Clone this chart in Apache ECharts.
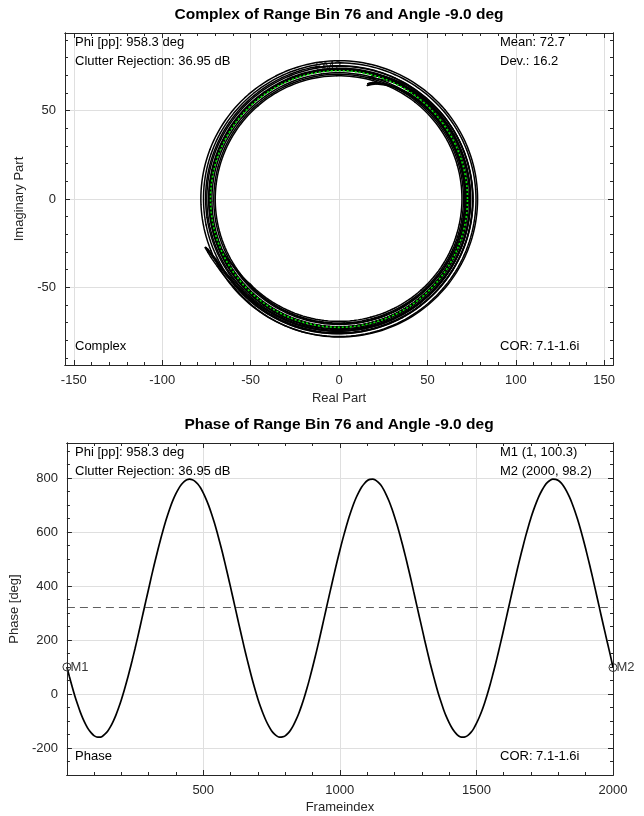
<!DOCTYPE html>
<html><head><meta charset="utf-8">
<script src="https://cdn.jsdelivr.net/npm/echarts@6/dist/echarts.min.js"></script>
<style>html,body{margin:0;padding:0;background:#fff}#c{width:644px;height:816px}</style>
</head><body><div id="c"></div>
<script>
// ---------------- data ----------------
const frameStep = 10;            // samples every 10 frames, first sample = frame 1
const phaseDeg = [100.3,65,28,-7,-38,-67,-92,-113,-131,-144,
-154,-159,-160,-157,-149,-138,-122,-102,-79,-52,
-22,11,47,85,125,167,210,255,300,345,
389,434,477,518,558,596,632,664,694,720,
742,761,776,787,794,796,794,788,778,764,
745,723,698,669,637,602,564,525,483,440,
396,351,306,261,217,173,131,91,52,16,
-18,-48,-75,-99,-119,-136,-148,-156,-160,-159,
-155,-146,-133,-116,-95,-71,-43,-12,22,59,
98,139,181,225,270,315,360,404,448,491,
532,571,608,643,674,703,728,749,767,780,
790,795,796,793,785,774,758,738,715,688,
658,625,589,551,511,469,426,381,336,291,
247,202,159,117,78,40,4,-28,-58,-84,
-106,-125,-140,-151,-158,-160,-158,-152,-142,-128,
-109,-87,-62,-33,-1,34,72,111,153,196,
240,285,330,375,419,463,505,545,584,620,
654,684,711,735,755,772,784,792,796,795,
791,782,769,752,731,707,679,648,614,577,
538,497,455,411,366,321,276,232,188,145,
98.2];
const magnitude = [75.5,75.5,75.6,75.6,75.7,75.7,75.8,75.8,75.9,75.9,
77.5,79.4,80.2,79.0,76.9,75.8,75.1,75.0,74.8,74.7,
74.5,74.4,74.2,74.1,73.9,73.8,73.6,73.5,73.3,73.2,
73.0,72.9,72.8,72.7,72.6,72.5,72.4,72.3,72.2,72.1,
72.0,72.0,71.9,70.4,68.3,67.3,68.6,70.3,71.1,71.6,
71.5,71.4,71.3,71.2,71.1,71.0,70.9,70.8,70.7,70.6,
70.5,70.4,70.3,70.2,70.1,70.0,69.9,69.8,69.7,69.6,
69.5,69.4,69.3,69.3,69.4,69.6,70.8,72.4,73.4,73.0,
72.0,70.7,70.3,70.5,70.6,70.8,70.9,71.1,71.2,71.4,
71.5,71.7,71.9,72.1,72.3,72.5,72.7,72.9,73.1,73.3,
73.5,73.7,73.8,74.0,74.1,74.3,74.4,74.6,74.7,74.9,
74.0,72.1,70.7,71.3,72.9,74.5,75.6,75.7,75.8,75.9,
76.0,76.2,76.4,76.6,76.8,77.0,77.2,77.4,77.6,77.8,
78.0,78.1,78.2,78.3,78.3,78.4,78.4,78.4,78.3,78.2,
78.0,77.8,77.5,78.7,80.1,80.5,79.3,77.8,76.7,76.6,
76.5,76.3,76.1,75.9,75.7,75.5,75.3,75.1,74.9,74.7,
74.5,74.3,74.1,73.9,73.7,73.5,73.3,73.1,72.9,72.7,
72.5,72.4,72.2,72.1,71.9,71.8,70.6,68.5,66.3,67.4,
69.3,70.9,71.4,71.6,71.8,72.0,72.2,72.4,72.6,72.8,
73.0,73.3,73.6,73.9,74.2,74.5,74.8,75.1,75.4,75.7,
76.0];
const meanRadius = 72.7;
const meanPhase = 320;
const markerM1 = {frame: 1, phase: 100.3};
const markerM2 = {frame: 2000, phase: 98.2};
const xTicksComplex = [-150,-100,-50,0,50,100,150];
const yTicksComplex = [-50,0,50];
const xTicksPhase = [500,1000,1500,2000];
const yTicksPhase = [-200,0,200,400,600,800];
const textsTop = {tl1:'Phi [pp]: 958.3 deg', tl2:'Clutter Rejection: 36.95 dB', tr1:'Mean: 72.7', tr2:'Dev.: 16.2', bl:'Complex', br:'COR: 7.1-1.6i'};
const textsBottom = {tl1:'Phi [pp]: 958.3 deg', tl2:'Clutter Rejection: 36.95 dB', tr1:'M1 (1, 100.3)', tr2:'M2 (2000, 98.2)', bl:'Phase', br:'COR: 7.1-1.6i'};

// ---------------- derived series ----------------
const frames = phaseDeg.map((_, i) => i === 0 ? 1 : i * frameStep);
const rad = Math.PI / 180;
const toXY = (r, pDeg) => [r * Math.cos(pDeg * rad), r * Math.sin(pDeg * rad)];
const trajectory = phaseDeg.map((p, i) => toXY(magnitude[i], p));
const circle = [];
for (let a = 0; a <= 360; a += 3) circle.push(toXY(meanRadius, a));
const last = phaseDeg.length - 1;
const m2Complex = trajectory[last];
const phaseSeries = frames.map((f, i) => [f, phaseDeg[i]]);

// ---------------- styling ----------------
const FONT = '"Liberation Sans", Arial, Helvetica, sans-serif';
const AX = '#262626';
const GRIDC = '#dfdfdf';
const G0 = {left: 65, top: 33, width: 548, height: 332};
const G1 = {left: 65, top: 443, width: 548, height: 332};
const XR0 = [-155, 155], YR0 = [-94, 94];
const XR1 = [1, 2000], YR1 = [-300, 930];

function minorVals(range, step, majorStep) {
  const out = [];
  const s = Math.ceil(range[0] / step) * step;
  for (let v = s; v <= range[1]; v += step) {
    if (v <= range[0] || v >= range[1]) continue;
    if (Math.abs(v % majorStep) < 1e-9) continue;
    out.push(v);
  }
  return out;
}
function tickAxis(grid, pos, range, values, len) {
  return {type: 'value', gridIndex: grid, position: pos, min: range[0], max: range[1], z: 5,
    axisLine: {show: true, onZero: false, lineStyle: {color: AX, width: 1}},
    axisTick: {show: true, inside: true, length: len, customValues: values, lineStyle: {color: AX, width: 1}},
    axisLabel: {show: false}, splitLine: {show: false}, silent: true};
}
function mainAxis(grid, pos, range, step, name, gap) {
  return {type: 'value', gridIndex: grid, position: pos, min: range[0], max: range[1],
    minInterval: step, maxInterval: step, splitNumber: 6,
    axisLine: {show: true, onZero: false, lineStyle: {color: AX, width: 1}},
    axisTick: {show: true, inside: true, length: 5, lineStyle: {color: AX}},
    axisLabel: {color: AX, fontSize: 13, fontFamily: FONT, margin: 9, showMinLabel: true, showMaxLabel: true,
      formatter: v => (Math.abs(v % step) < 1e-9 ? String(v) : '')},
    splitLine: {show: true, lineStyle: {color: GRIDC, width: 1}},
    name: name, nameLocation: 'middle', nameGap: gap,
    nameTextStyle: {color: AX, fontSize: 13, fontFamily: FONT}};
}

const xAxis = [
  mainAxis(0, 'bottom', XR0, 50, 'Real Part', 27),
  tickAxis(0, 'top', XR0, xTicksComplex, 5),
  tickAxis(0, 'top', XR0, minorVals(XR0, 10, 50), 3),
  tickAxis(0, 'bottom', XR0, minorVals(XR0, 10, 50), 3),
  mainAxis(1, 'bottom', XR1, 500, 'Frameindex', 26),
  tickAxis(1, 'top', XR1, xTicksPhase, 5),
  tickAxis(1, 'top', XR1, minorVals(XR1, 100, 500), 3),
  tickAxis(1, 'bottom', XR1, minorVals(XR1, 100, 500), 3)
];
const yAxis = [
  mainAxis(0, 'left', YR0, 50, 'Imaginary Part', 38),
  tickAxis(0, 'right', YR0, yTicksComplex, 5),
  tickAxis(0, 'right', YR0, minorVals(YR0, 10, 50), 3),
  tickAxis(0, 'left', YR0, minorVals(YR0, 10, 50), 3),
  mainAxis(1, 'left', YR1, 200, 'Phase [deg]', 40),
  tickAxis(1, 'right', YR1, yTicksPhase, 5),
  tickAxis(1, 'right', YR1, minorVals(YR1, 50, 200), 3),
  tickAxis(1, 'left', YR1, minorVals(YR1, 50, 200), 3)
];

function markerSeries(xi, yi, pt, name, z) {
  return {type: 'scatter', xAxisIndex: xi, yAxisIndex: yi, data: [pt], clip: false, z: z,
    symbol: 'circle', symbolSize: 8,
    itemStyle: {color: 'rgba(0,0,0,0)', borderColor: '#000', borderWidth: 1},
    label: {show: true, formatter: name, position: 'right', distance: -1, color: '#000', fontSize: 13, fontFamily: FONT},
    emphasis: {disabled: true}, silent: true};
}

// complex trajectory: each sample joined to the next along the (magnitude, phase) path
function renderTrajectory(params, api) {
  const i = params.dataIndex;
  if (i >= last) return null;
  const p0 = phaseDeg[i], p1 = phaseDeg[i + 1], r0 = magnitude[i], r1 = magnitude[i + 1];
  const n = Math.max(2, Math.ceil(Math.abs(p1 - p0) / 2));
  const pts = [];
  for (let s = 0; s <= n; s++) {
    const t = s / n;
    pts.push(api.coord(toXY(r0 + (r1 - r0) * t, p0 + (p1 - p0) * t)));
  }
  return {type: 'polyline', shape: {points: pts},
    style: {stroke: '#000', lineWidth: 1.5, fill: null, lineJoin: 'round', lineCap: 'round'}};
}

const series = [
  {type: 'custom', coordinateSystem: 'cartesian2d', xAxisIndex: 0, yAxisIndex: 0, data: trajectory,
    renderItem: renderTrajectory, z: 2, silent: true, clip: true},
  {type: 'line', xAxisIndex: 0, yAxisIndex: 0, data: circle, showSymbol: false, smooth: false, z: 3,
    lineStyle: {color: '#00e600', width: 1.6, type: [2, 2]}, silent: true},
  markerSeries(0, 0, m2Complex, 'M2', 4),
  {type: 'line', xAxisIndex: 4, yAxisIndex: 4, data: phaseSeries, showSymbol: false, smooth: 0.3, z: 2,
    lineStyle: {color: '#000', width: 1.7}, silent: true,
    markLine: {silent: true, symbol: 'none', label: {show: false},
      lineStyle: {color: '#606060', width: 1, type: [8, 5]}, data: [{yAxis: meanPhase}]}},
  markerSeries(4, 4, [markerM1.frame, markerM1.phase], 'M1', 3),
  markerSeries(4, 4, [markerM2.frame, markerM2.phase], 'M2', 3)
];

function txt(x, y, s) {
  return {type: 'text', x: x, y: y, silent: true, z: 10,
    style: {text: s, font: '13px ' + FONT, fill: '#000', align: 'left', verticalAlign: 'middle'}};
}
function panelTexts(g, t) {
  const L = g.left + 10, R = g.left + 435;
  return [
    txt(L, g.top + 9, t.tl1), txt(L, g.top + 28, t.tl2),
    txt(R, g.top + 9, t.tr1), txt(R, g.top + 28, t.tr2),
    txt(L, g.top + g.height - 19, t.bl), txt(R, g.top + g.height - 19, t.br)
  ];
}
const graphic = [
  {type: 'text', x: G0.left + G0.width / 2, y: 15, silent: true,
    style: {text: 'Complex of Range Bin 76 and Angle -9.0 deg', font: 'bold 15.5px ' + FONT, fill: '#000', align: 'center', verticalAlign: 'middle'}},
  {type: 'text', x: G1.left + G1.width / 2, y: 425, silent: true,
    style: {text: 'Phase of Range Bin 76 and Angle -9.0 deg', font: 'bold 15.5px ' + FONT, fill: '#000', align: 'center', verticalAlign: 'middle'}}
].concat(panelTexts(G0, textsTop), panelTexts(G1, textsBottom));

const chart = echarts.init(document.getElementById('c'), null, {renderer: 'canvas'});
chart.setOption({
  animation: false,
  backgroundColor: '#fff',
  grid: [Object.assign({containLabel: false}, G0), Object.assign({containLabel: false}, G1)],
  xAxis: xAxis, yAxis: yAxis, series: series, graphic: graphic
});
</script></body></html>
